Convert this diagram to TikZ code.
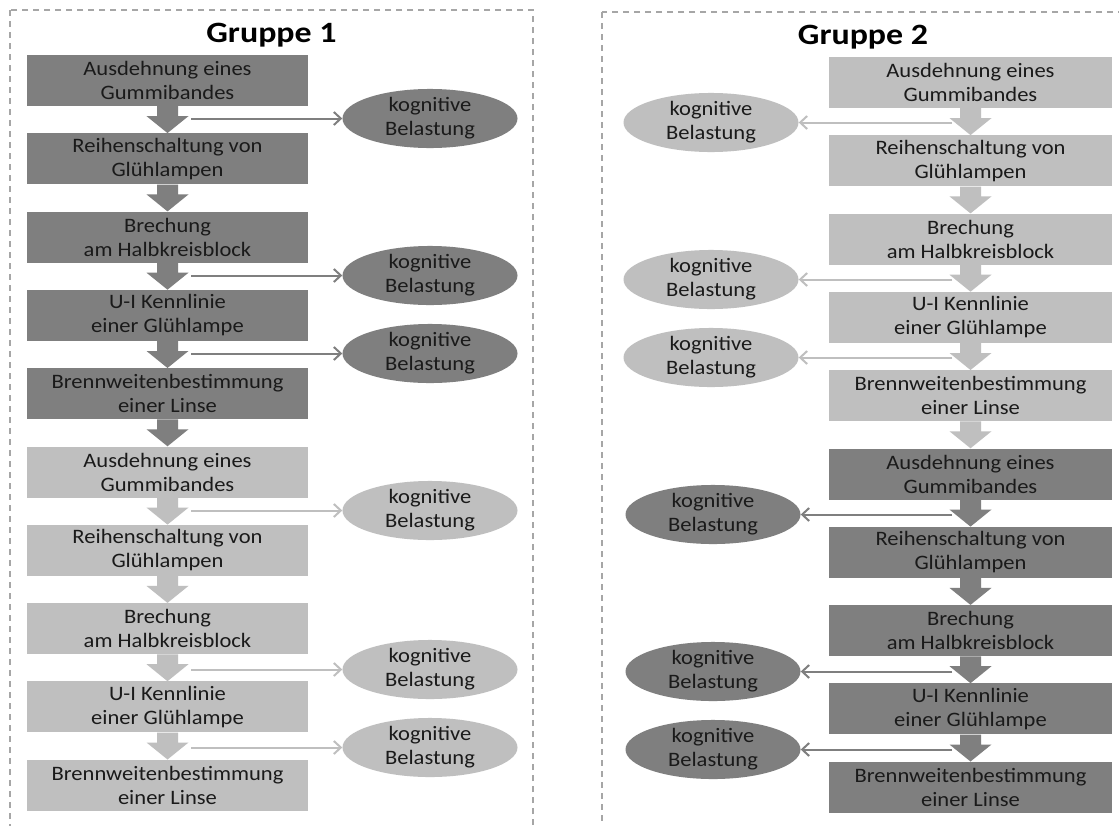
\documentclass[tikz,border=0pt]{standalone}
\usepackage{fontspec}
\setmainfont{Carlito}[FakeStretch=1.1]
\newfontfamily\titlefont{Carlito}[FakeStretch=1.15]
\usetikzlibrary{arrows.meta,calc,shapes.geometric}
\definecolor{dk}{HTML}{7F7F7F}
\definecolor{lt}{HTML}{BFBFBF}
\definecolor{txt}{HTML}{1A1A1A}
\definecolor{frm}{HTML}{A6A6A6}
\newcommand\blkarrow[3]{\fill[#1] ($(#2.south)+(-10.5,0)$) -- ($(#2.south)+(10.5,0)$) -- ($(#3.north)+(10.5,-17)$) -- ($(#3.north)+(21,-17)$) -- (#3.north) -- ($(#3.north)+(-21,-17)$) -- ($(#3.north)+(-10.5,-17)$) -- cycle;}
\begin{document}
\begin{tikzpicture}[x=1pt,y=-1pt,
  stepbox/.style={rectangle, minimum height=51pt, inner sep=0pt, align=center, text=txt, font=\fontsize{20.5}{24}\selectfont},
  lbox/.style={stepbox, minimum width=281pt},
  rbox/.style={stepbox, minimum width=283pt},
  load/.style={ellipse, minimum width=175pt, minimum height=57pt, inner sep=0pt, align=center, text=txt, font=\fontsize{20.5}{24}\selectfont},
  thinarr/.style={line width=2pt, -{Straight Barb[length=7pt,width=13pt]}},
  frame/.style={draw=frm, line width=1.2pt, dash pattern=on 6pt off 5pt},
  title/.style={font=\titlefont\bfseries\fontsize{29.5}{34}\selectfont, anchor=base, text=black}
]
\useasboundingbox (0,0) rectangle (1119,825);
\clip (0,0) rectangle (1119,825);
\fill[white] (0,0) rectangle (1119,825);

% frames
\draw[frame] (10,10) rectangle (533,860);
\draw[frame] (602,12) rectangle (1126,860);

% titles
\node[title] (t1) at (271.5,42) {Gruppe 1};
\node[title] (t2) at (863,44) {Gruppe 2};

% ---------------- Gruppe 1 ----------------
\node[lbox, fill=dk] (l1) at (167.5,80.5) {Ausdehnung eines\\Gummibandes};
\node[lbox, fill=dk] (l2) at (167.5,158.8) {Reihenschaltung von\\Glühlampen};
\node[lbox, fill=dk] (l3) at (167.5,237.1) {Brechung\\am Halbkreisblock};
\node[lbox, fill=dk] (l4) at (167.5,315.4) {U-I Kennlinie\\einer Glühlampe};
\node[lbox, fill=dk] (l5) at (167.5,393.7) {Brennweitenbestimmung\\einer Linse};
\node[lbox, fill=lt] (l6) at (167.5,472.0) {Ausdehnung eines\\Gummibandes};
\node[lbox, fill=lt] (l7) at (167.5,550.3) {Reihenschaltung von\\Glühlampen};
\node[lbox, fill=lt] (l8) at (167.5,628.6) {Brechung\\am Halbkreisblock};
\node[lbox, fill=lt] (l9) at (167.5,706.9) {U-I Kennlinie\\einer Glühlampe};
\node[lbox, fill=lt] (l10) at (167.5,785.2) {Brennweitenbestimmung\\einer Linse};

\blkarrow{dk}{l1}{l2}
\blkarrow{dk}{l2}{l3}
\blkarrow{dk}{l3}{l4}
\blkarrow{dk}{l4}{l5}
\blkarrow{dk}{l5}{l6}
\blkarrow{lt}{l6}{l7}
\blkarrow{lt}{l7}{l8}
\blkarrow{lt}{l8}{l9}
\blkarrow{lt}{l9}{l10}

\node[load, fill=dk] (le1) at (430,118.5) {kognitive\\Belastung};
\node[load, fill=dk] (le2) at (430,275.5) {kognitive\\Belastung};
\node[load, fill=dk] (le3) at (430,353.5) {kognitive\\Belastung};
\node[load, fill=lt] (le4) at (430,510.5) {kognitive\\Belastung};
\node[load, fill=lt] (le5) at (430,669.5) {kognitive\\Belastung};
\node[load, fill=lt] (le6) at (430,747.5) {kognitive\\Belastung};

\coordinate (ls1) at (191,118.5);
\coordinate (ls2) at (191,275.5);
\coordinate (ls3) at (191,353.5);
\coordinate (ls4) at (191,510.5);
\coordinate (ls5) at (191,669.5);
\coordinate (ls6) at (191,747.5);
\draw[thinarr, dk] (ls1) -- (le1.west);
\draw[thinarr, dk] (ls2) -- (le2.west);
\draw[thinarr, dk] (ls3) -- (le3.west);
\draw[thinarr, lt] (ls4) -- (le4.west);
\draw[thinarr, lt] (ls5) -- (le5.west);
\draw[thinarr, lt] (ls6) -- (le6.west);

% ---------------- Gruppe 2 ----------------
\node[rbox, fill=lt] (r1) at (970.5,82.5) {Ausdehnung eines\\Gummibandes};
\node[rbox, fill=lt] (r2) at (970.5,160.8) {Reihenschaltung von\\Glühlampen};
\node[rbox, fill=lt] (r3) at (970.5,239.1) {Brechung\\am Halbkreisblock};
\node[rbox, fill=lt] (r4) at (970.5,317.4) {U-I Kennlinie\\einer Glühlampe};
\node[rbox, fill=lt] (r5) at (970.5,395.7) {Brennweitenbestimmung\\einer Linse};
\node[rbox, fill=dk] (r6) at (970.5,474.0) {Ausdehnung eines\\Gummibandes};
\node[rbox, fill=dk] (r7) at (970.5,552.3) {Reihenschaltung von\\Glühlampen};
\node[rbox, fill=dk] (r8) at (970.5,630.6) {Brechung\\am Halbkreisblock};
\node[rbox, fill=dk] (r9) at (970.5,708.9) {U-I Kennlinie\\einer Glühlampe};
\node[rbox, fill=dk] (r10) at (970.5,787.2) {Brennweitenbestimmung\\einer Linse};

\blkarrow{lt}{r1}{r2}
\blkarrow{lt}{r2}{r3}
\blkarrow{lt}{r3}{r4}
\blkarrow{lt}{r4}{r5}
\blkarrow{lt}{r5}{r6}
\blkarrow{dk}{r6}{r7}
\blkarrow{dk}{r7}{r8}
\blkarrow{dk}{r8}{r9}
\blkarrow{dk}{r9}{r10}

\node[load, fill=lt] (re1) at (711,122.5) {kognitive\\Belastung};
\node[load, fill=lt] (re2) at (711,279.5) {kognitive\\Belastung};
\node[load, fill=lt] (re3) at (711,357.5) {kognitive\\Belastung};
\node[load, fill=dk] (re4) at (713,514.5) {kognitive\\Belastung};
\node[load, fill=dk] (re5) at (713,671.5) {kognitive\\Belastung};
\node[load, fill=dk] (re6) at (713,749.5) {kognitive\\Belastung};

\coordinate (rs1) at (952,122.5);
\coordinate (rs2) at (952,279.5);
\coordinate (rs3) at (952,357.5);
\coordinate (rs4) at (952,514.5);
\coordinate (rs5) at (952,671.5);
\coordinate (rs6) at (952,749.5);
\draw[thinarr, lt] (rs1) -- (re1.east);
\draw[thinarr, lt] (rs2) -- (re2.east);
\draw[thinarr, lt] (rs3) -- (re3.east);
\draw[thinarr, dk] (rs4) -- (re4.east);
\draw[thinarr, dk] (rs5) -- (re5.east);
\draw[thinarr, dk] (rs6) -- (re6.east);
\end{tikzpicture}
\end{document}
